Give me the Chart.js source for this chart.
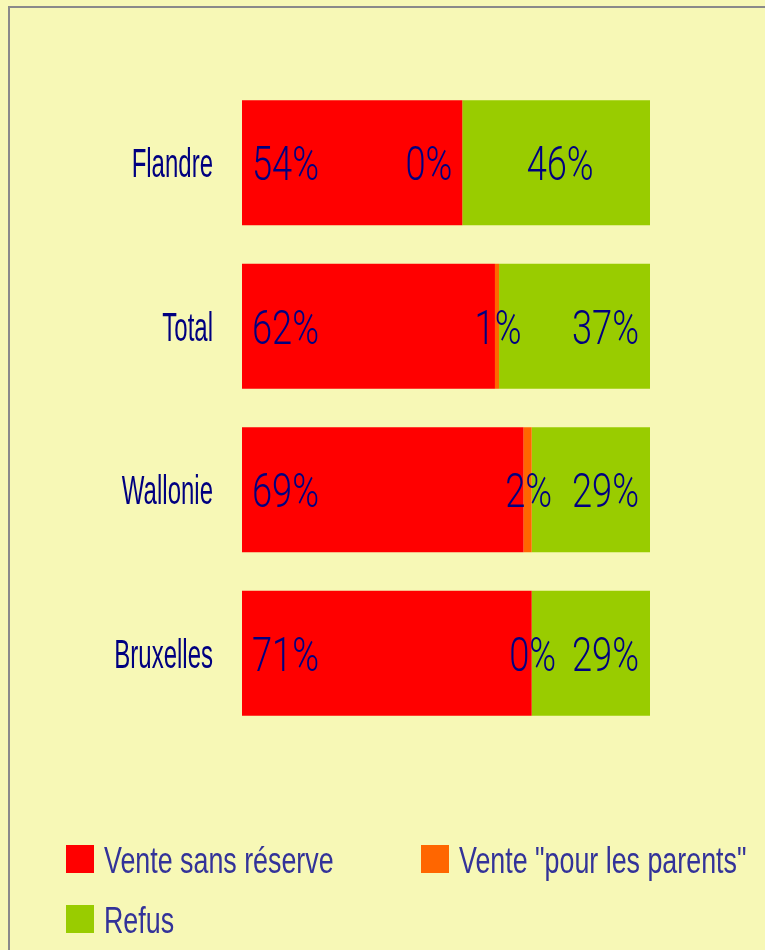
<!DOCTYPE html>
<html>
<head>
<meta charset="utf-8">
<script src="https://cdn.jsdelivr.net/npm/chart.js@4"></script>
<style>
  body { margin: 0; background: #F7F8B6; }
  #frame { position: absolute; left: 8px; top: 6px; width: 900px; height: 1100px; border: 2px solid #8a8a8a; box-sizing: border-box; }
  #myChart { position: absolute; left: 0; top: 0; }
</style>
</head>
<body>
<div id="frame"></div>
<canvas id="myChart" width="765" height="950"></canvas>
<script>
var regions = ['Flandre', 'Total', 'Wallonie', 'Bruxelles'];
var venteSansReserve = [54, 62, 69, 71];
var ventePourParents = [0, 1, 2, 0];
var refus = [46, 37, 29, 29];
var seriesNames = ['Vente sans réserve', 'Vente "pour les parents"', 'Refus'];
var seriesColors = ['#FF0000', '#FF6600', '#99CC00'];

// draw text squeezed horizontally (the original uses a condensed face)
function narrowText(ctx, text, x, y, align, sx) {
    ctx.save();
    ctx.translate(x, y);
    ctx.scale(sx, 1);
    ctx.textAlign = align;
    ctx.textBaseline = 'alphabetic';
    ctx.fillText(text, 0, 0);
    ctx.restore();
}

var labelsPlugin = {
    id: 'labelsPlugin',
    afterDatasetsDraw: function(chart) {
        var ctx = chart.ctx;
        var yScale = chart.scales.y;

        // category labels
        ctx.fillStyle = '#000080';
        ctx.font = '40px "Liberation Sans", Arial, sans-serif';
        regions.forEach(function(r, i) {
            var cy = yScale.getPixelForTick(i);
            narrowText(ctx, r, chart.chartArea.left - 29, cy + 14.5, 'right', 0.6);
        });

        // value labels
        ctx.font = '300 49px Roboto, "Liberation Sans", sans-serif';
        var sx = 0.74;
        var m0 = chart.getDatasetMeta(0), m1 = chart.getDatasetMeta(1), m2 = chart.getDatasetMeta(2);
        regions.forEach(function(r, i) {
            var b0 = m0.data[i], b1 = m1.data[i], b2 = m2.data[i];
            var cy = b0.y + 17.5;
            var wide = (b2.x - b2.base) > 170;
            narrowText(ctx, chart.data.datasets[0].data[i] + '%', b0.base + 10, cy, 'left', sx);
            if (wide) {
                narrowText(ctx, chart.data.datasets[1].data[i] + '%', b1.x - 10, cy, 'right', sx);
                narrowText(ctx, chart.data.datasets[2].data[i] + '%', (b2.x + b2.base) / 2 + 4, cy, 'center', sx);
            } else {
                narrowText(ctx, chart.data.datasets[1].data[i] + '%', (b1.x + b1.base) / 2 + 1, cy, 'center', sx);
                narrowText(ctx, chart.data.datasets[2].data[i] + '%', b2.x - 11, cy, 'right', sx);
            }
        });

        // legend
        ctx.font = '36px "Liberation Sans", Arial, sans-serif';
        chart.data.datasets.forEach(function(ds, k) {
            var lx = (k % 2 === 0) ? 66 : 421;
            var ly = 845 + Math.floor(k / 2) * 60;
            ctx.fillStyle = ds.backgroundColor;
            ctx.fillRect(lx, ly, 28, 28);
            ctx.fillStyle = '#333399';
            narrowText(ctx, ds.label, lx + 38, ly + 28, 'left', 0.745);
        });
    }
};

var ctx = document.getElementById('myChart').getContext('2d');
var myChart = new Chart(ctx, {
    type: 'bar',
    data: {
        labels: regions,
        datasets: [
            { label: seriesNames[0], data: venteSansReserve, backgroundColor: seriesColors[0] },
            { label: seriesNames[1], data: ventePourParents, backgroundColor: seriesColors[1] },
            { label: seriesNames[2], data: refus, backgroundColor: seriesColors[2] }
        ]
    },
    options: {
        indexAxis: 'y',
        responsive: false,
        animation: false,
        devicePixelRatio: 1,
        datasets: {
            bar: { barPercentage: 0.7645, categoryPercentage: 1, borderWidth: 0 }
        },
        layout: { padding: { left: 242, right: 115, top: 81, bottom: 215 } },
        plugins: {
            legend: { display: false },
            tooltip: { enabled: false },
            title: { display: false }
        },
        scales: {
            x: { stacked: true, min: 0, max: 100, display: false },
            y: { stacked: true, display: false }
        }
    },
    plugins: [labelsPlugin]
});
</script>
</body>
</html>
